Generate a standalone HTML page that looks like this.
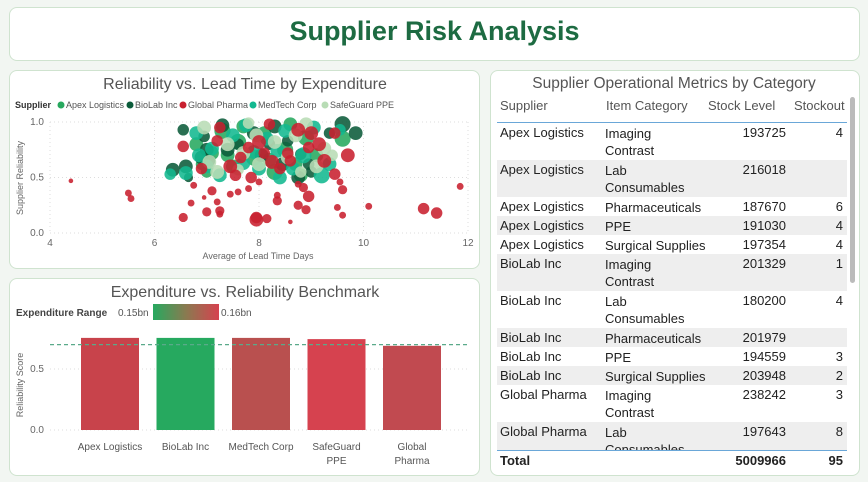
<!DOCTYPE html>
<html><head><meta charset="utf-8">
<style>
body{margin:0;width:868px;height:482px;background:#f2f6f2;font-family:"Liberation Sans",sans-serif;position:relative;overflow:hidden}
.panel{position:absolute;background:#fff;border:1px solid #cfe3cf;border-radius:8px}
.t{position:absolute;font-size:13px;color:#222;white-space:nowrap}
.r{text-align:right}
</style></head><body>
<div class="panel" style="left:9px;top:7px;width:849px;height:52px">
  <div style="position:absolute;left:0;right:0;top:8px;text-align:center;font-size:27px;font-weight:bold;color:#1d6b42">Supplier Risk Analysis</div>
</div>
<div class="panel" style="left:9px;top:70px;width:469px;height:197px"></div>
<div class="panel" style="left:9px;top:278px;width:469px;height:196px"></div>
<div class="panel" style="left:490px;top:70px;width:368px;height:404px"></div>

<svg id="sc" width="868" height="482" style="position:absolute;left:0;top:0">
<text x="245" y="89" text-anchor="middle" font-size="16" fill="#555" font-family="Liberation Sans">Reliability vs. Lead Time by Expenditure</text>
<g font-family="Liberation Sans" font-size="9" fill="#555">
<text x="15" y="108" font-weight="bold" fill="#333">Supplier</text>
<circle cx="61" cy="105" r="3.5" fill="#27a85e"/><text x="66" y="108">Apex Logistics</text>
<circle cx="130" cy="105" r="3.5" fill="#0b5b3a"/><text x="135" y="108">BioLab Inc</text>
<circle cx="183" cy="105" r="3.5" fill="#c8202f"/><text x="188" y="108">Global Pharma</text>
<circle cx="253" cy="105" r="3.5" fill="#12b890"/><text x="258" y="108">MedTech Corp</text>
<circle cx="325" cy="105" r="3.5" fill="#b8dcb5"/><text x="330" y="108">SafeGuard PPE</text>
</g>
<g id="sgrid"></g><g id="spts"></g>
<text x="258" y="259" text-anchor="middle" font-size="9" fill="#666" font-family="Liberation Sans">Average of Lead Time Days</text>
<text transform="translate(23,178) rotate(-90)" text-anchor="middle" font-size="9" fill="#666" font-family="Liberation Sans">Supplier Reliability</text>

<text x="245" y="297" text-anchor="middle" font-size="16" fill="#555" font-family="Liberation Sans">Expenditure vs. Reliability Benchmark</text>
<g font-family="Liberation Sans" font-size="10">
<defs><linearGradient id="gr"><stop offset="0" stop-color="#26a95f"/><stop offset="0.5" stop-color="#8a7a50"/><stop offset="1" stop-color="#d6424f"/></linearGradient></defs>
<text x="16" y="316" font-weight="bold" fill="#444">Expenditure Range</text>
<text x="118" y="316" fill="#555">0.15bn</text>
<rect x="153" y="304" width="66" height="16" fill="url(#gr)"/>
<text x="221" y="316" fill="#555">0.16bn</text>
</g>
<g id="bgrid"></g><g id="bars"></g>
<text transform="translate(23,385) rotate(-90)" text-anchor="middle" font-size="9" fill="#666" font-family="Liberation Sans">Reliability Score</text>
</svg>

<div>
<div class="t" style="left:490px;top:75px;width:368px;text-align:center;font-size:15.5px;color:#555">Supplier Operational Metrics by Category</div>
<div id="tbl"></div>
<div style="position:absolute;left:850px;top:97px;width:5px;height:186px;background:#bbb;border-radius:3px"></div>
</div>

<script>
const NS="http://www.w3.org/2000/svg";
function mk(tag,attrs,parent){const e=document.createElementNS(NS,tag);for(const k in attrs)e.setAttribute(k,attrs[k]);parent.appendChild(e);return e;}
// ---- scatter data: [leadTime, reliability, size]
const supplierNames=["Apex Logistics","BioLab Inc","Global Pharma","MedTech Corp","SafeGuard PPE"];
const supplierColors=["#27a85e","#0b5b3a","#c8202f","#12b890","#b8dcb5"];
const apexPts=[[6.8,0.8,6],[7.1,0.72,6],[7.3,0.92,7],[7.5,0.6,6],[7.6,0.82,7],[7.9,0.68,7],[8.1,0.9,6],[8.3,0.55,7],[8.5,0.75,7],[8.7,0.62,6],[8.9,0.86,7],[9.1,0.7,6],[9.6,0.85,7],[7.0,0.55,5],[7.7,0.96,6],[8.2,0.66,6],[8.6,0.98,6],[7.4,0.7,6],[8.8,0.52,6],[6.9,0.62,5]];
const bioPts=[[6.35,0.57,6],[6.55,0.93,5],[6.6,0.6,6],[6.65,0.5,4],[6.9,0.68,6],[6.95,0.87,5],[7.05,0.65,5],[7.3,0.97,6],[7.4,0.75,6],[7.6,0.8,5],[7.9,0.9,6],[8.05,0.7,6],[8.3,0.96,6],[8.45,0.62,6],[8.55,0.83,5],[8.75,0.5,6],[8.8,0.71,5],[9.0,0.55,5],[9.35,0.9,5],[9.6,0.98,7],[9.85,0.9,6],[7.0,0.75,6],[8.2,0.8,5],[8.95,0.62,5]];
const globalPts=[[6.55,0.78,5],[6.9,0.58,5],[7.2,0.83,5],[7.25,0.95,5],[7.45,0.6,6],[7.65,0.68,5],[7.8,0.77,5],[7.85,0.5,5],[8.0,0.82,6],[8.1,0.72,5],[8.2,0.98,5],[8.25,0.64,6],[8.4,0.58,5],[8.55,0.72,5],[8.75,0.93,6],[8.95,0.77,5],[9.0,0.9,6],[9.15,0.8,6],[9.25,0.65,6],[9.45,0.9,5],[9.7,0.7,6],[7.55,0.52,5],[8.6,0.65,5],
[4.4,0.47,2],[5.5,0.36,3],[5.55,0.31,3],[6.55,0.14,4],[6.7,0.27,3],[6.75,0.43,3],[6.95,0.32,2],[7.0,0.19,4],[7.1,0.38,4],[7.2,0.28,3],[7.25,0.2,4],[7.25,0.17,3],[7.45,0.35,3],[7.6,0.37,3],[7.8,0.4,3],[7.95,0.12,6],[7.95,0.14,5],[8.0,0.46,3],[8.15,0.13,4],[8.35,0.34,3],[8.35,0.29,4],[8.6,0.1,2],[8.75,0.44,3],[8.75,0.25,4],[8.85,0.41,4],[8.9,0.21,4],[8.95,0.33,5],[9.45,0.53,5],[9.55,0.46,3],[9.5,0.23,3],[9.6,0.39,4],[9.6,0.16,3],[10.1,0.24,3],[11.15,0.22,5],[11.4,0.18,5],[11.85,0.42,3]];
const medPts=[[6.3,0.53,5],[6.6,0.54,6],[6.8,0.9,6],[7.0,0.6,6],[7.1,0.76,6],[7.25,0.52,6],[7.5,0.88,6],[7.7,0.63,6],[7.75,0.97,6],[8.0,0.58,6],[8.15,0.85,6],[8.35,0.74,6],[8.5,0.92,6],[8.65,0.58,6],[8.85,0.7,7],[9.05,0.95,6],[9.2,0.52,7],[9.35,0.62,6],[7.9,0.73,6],[8.4,0.5,6],[6.85,0.7,6],[9.55,0.93,5]];
const safePts=[[6.95,0.95,6],[7.05,0.64,6],[7.2,0.55,6],[7.4,0.8,6],[7.7,0.72,6],[7.95,0.88,6],[8.0,0.62,6],[8.3,0.82,6],[8.55,0.68,6],[8.7,0.88,6],[8.9,0.98,6],[9.1,0.6,6],[9.25,0.76,6],[7.6,0.57,5],[8.8,0.55,5],[7.8,0.99,5],[9.4,0.7,5]];
const xTicks=[4,6,8,10,12];
const yTicks=[0,0.5,1.0];
const sx=v=>50+(v-4)/8*418, sy=v=>233-v*111;
const sg=document.getElementById('sgrid');
xTicks.forEach(t=>{mk('line',{x1:sx(t),x2:sx(t),y1:122,y2:233,stroke:'#ddd','stroke-dasharray':'1,3'},sg);
 const tx=mk('text',{x:sx(t),y:246,'text-anchor':'middle','font-size':10,fill:'#666','font-family':'Liberation Sans'},sg);tx.textContent=t;});
yTicks.forEach(t=>{mk('line',{x1:50,x2:468,y1:sy(t),y2:sy(t),stroke:'#ddd','stroke-dasharray':'1,3'},sg);
 const tx=mk('text',{x:44,y:sy(t)+3,'text-anchor':'end','font-size':10,fill:'#666','font-family':'Liberation Sans'},sg);tx.textContent=t.toFixed(1);});
const sp=document.getElementById('spts');
[apexPts,bioPts,medPts,safePts,globalPts].forEach((arr,i)=>{const ci=[0,1,3,4,2][i];
 arr.forEach(p=>{const c=mk('circle',{cx:sx(p[0]),cy:sy(p[1]),r:p[2]*1.15,fill:supplierColors[ci],'fill-opacity':0.88},sp);
 
 });});
// ---- bar data
const barCats=["Apex Logistics","BioLab Inc","MedTech Corp","SafeGuard PPE","Global Pharma"];
const barLabels=[["Apex Logistics"],["BioLab Inc"],["MedTech Corp"],["SafeGuard","PPE"],["Global","Pharma"]];
const barVals=[0.755,0.755,0.755,0.745,0.69];
const barColors=["#c8434b","#26a95f","#b9504f","#d6424f","#c14a50"];
const benchmark=0.70;
const barTicks=[0,0.5];
const by=v=>430-v*122, bx=i=>72+i*75.5;
const bg=document.getElementById('bgrid');
barTicks.forEach(t=>{mk('line',{x1:50,x2:470,y1:by(t),y2:by(t),stroke:'#ddd','stroke-dasharray':'1,3'},bg);
 const tx=mk('text',{x:44,y:by(t)+3,'text-anchor':'end','font-size':10,fill:'#666','font-family':'Liberation Sans'},bg);tx.textContent=t.toFixed(1);});
const bs=document.getElementById('bars');
barVals.forEach((v,i)=>{const r=mk('rect',{x:bx(i)+9,y:by(v),width:58,height:by(0)-by(v),fill:barColors[i]},bs);
 
 
 barLabels[i].forEach((l,j)=>{const tx=mk('text',{x:bx(i)+38,y:450+j*14,'text-anchor':'middle','font-size':10,fill:'#555','font-family':'Liberation Sans'},bs);tx.textContent=l;});});
const bl=mk('line',{x1:50,x2:470,y1:by(benchmark),y2:by(benchmark),stroke:'#5aaa8a','stroke-dasharray':'4,3','stroke-width':1.2},bs);


// ---- table
const rows=[["Apex Logistics","Imaging\nContrast","193725","4"],["Apex Logistics","Lab\nConsumables","216018",""],["Apex Logistics","Pharmaceuticals","187670","6"],["Apex Logistics","PPE","191030","4"],["Apex Logistics","Surgical Supplies","197354","4"],["BioLab Inc","Imaging\nContrast","201329","1"],["BioLab Inc","Lab\nConsumables","180200","4"],["BioLab Inc","Pharmaceuticals","201979",""],["BioLab Inc","PPE","194559","3"],["BioLab Inc","Surgical Supplies","203948","2"],["Global Pharma","Imaging\nContrast","238242","3"],["Global Pharma","Lab\nConsumables","197643","8"]];
const tb=document.getElementById('tbl');
let h='<div class="t" style="left:500px;top:98px;color:#555">Supplier</div><div class="t" style="left:606px;top:98px;color:#555">Item Category</div><div class="t" style="left:708px;top:98px;color:#555">Stock Level</div><div class="t" style="left:794px;top:98px;color:#555">Stockout</div><div style="position:absolute;left:497px;top:122px;width:350px;height:1px;background:#6aa7d8"></div>';
let y=123;
rows.forEach((r,i)=>{const two=r[1].includes('\n');const hh=two?37:19;
 h+=`<div style="position:absolute;left:497px;top:${y}px;width:350px;height:${hh}px;background:${i%2?'#eee':'#fff'}"></div>`;
 h+=`<div class="t" style="left:500px;top:${y+2}px">${r[0]}</div><div class="t" style="left:605px;top:${y+2}px;line-height:17px">${r[1].replace('\n','<br>')}</div><div class="t r" style="left:700px;width:86px;top:${y+2}px">${r[2]}</div><div class="t r" style="left:800px;width:43px;top:${y+2}px">${r[3]}</div>`;
 y+=hh;});
h+='<div style="position:absolute;left:497px;top:450px;width:350px;height:24px;background:#fff"></div><div style="position:absolute;left:497px;top:450px;width:350px;height:1px;background:#6aa7d8"></div><div class="t" style="left:500px;top:453px;font-weight:bold">Total</div><div class="t r" style="left:700px;width:86px;top:453px;font-weight:bold">5009966</div><div class="t r" style="left:800px;width:43px;top:453px;font-weight:bold">95</div>';
tb.innerHTML=h;
</script>
</body></html>
